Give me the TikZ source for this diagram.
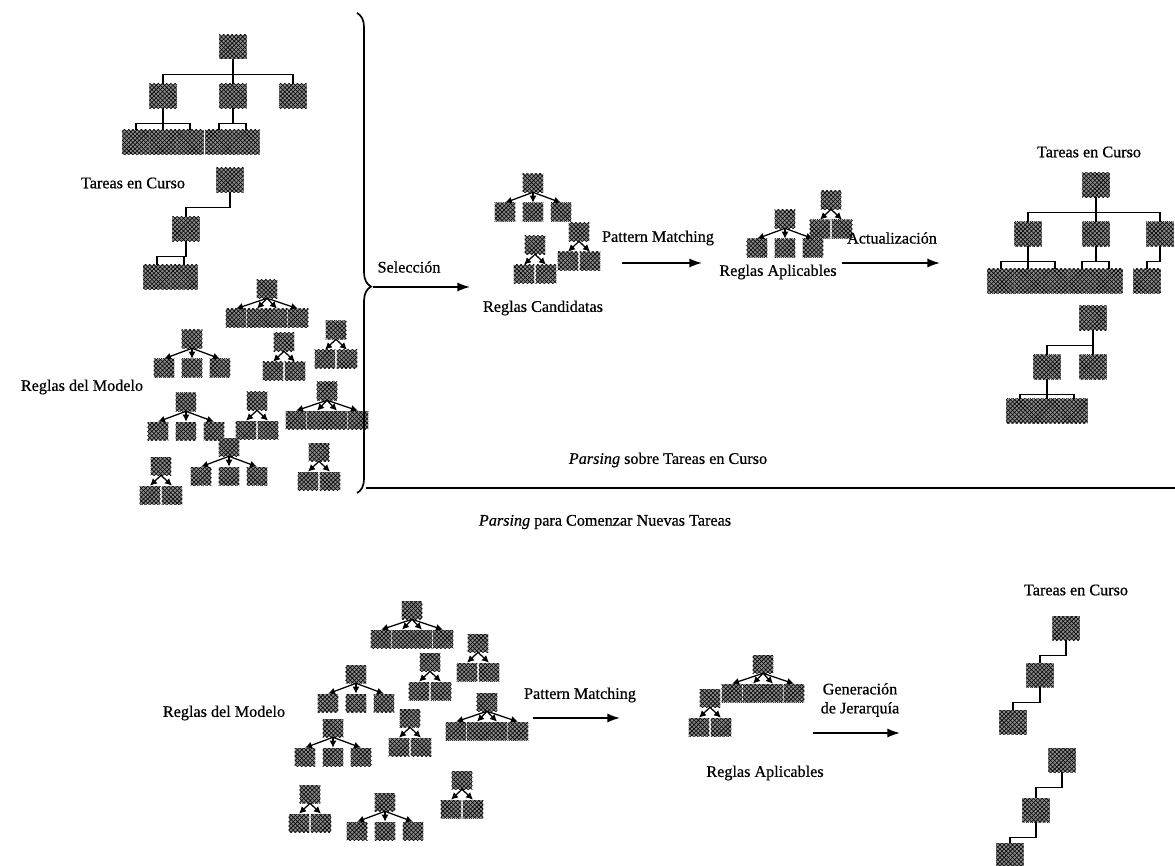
\documentclass[tikz,border=0pt]{standalone}
\usepackage{fontspec}
\setmainfont[FakeBold=0.6]{Liberation Serif}
\usetikzlibrary{arrows.meta, patterns, decorations.pathreplacing}

\tikzset{
  rule/.pic={
    \node[rulenode] (-p) at (0,0) {};
    \foreach \cx [count=\i] in {#1}{
      \node[rulenode] (-\i) at (\cx,29) {};
      \draw[rarr] (-p.south) -- (-\i.north);
    }
  }
}

\begin{document}
\begin{tikzpicture}[
    x=0.025cm, y=-0.025cm,
    task/.style={rectangle, inner sep=0pt, minimum width=0.68cm, minimum height=0.6cm,
      preaction={fill=black!45}, pattern=crosshatch, pattern color=black},
    rulenode/.style={task, minimum width=0.52cm, minimum height=0.45cm},
    tedge/.style={line width=1.1pt,
      to path={(\tikztostart.south) -- ++(0,15) -| (\tikztotarget.north)}},
    rarr/.style={-{Latex[length=5pt,width=5pt]}, line width=0.9pt},
    arr/.style={-{Latex[length=9pt,width=6.5pt]}, line width=1.2pt},
    lbl/.style={font=\fontsize{11.5}{13.5}\selectfont, inner sep=1pt, align=center},
  ]
  \useasboundingbox (0,0) rectangle (1175,866);
  % ── Tareas en Curso (top left) ───────────────────────────────────────────────
  \node[task] (tl0) at (233,47)  {};
  \node[task] (tl1) at (163,96)  {};
  \node[task] (tl2) at (233,96)  {};
  \node[task] (tl3) at (293,96)  {};
  \node[task] (tl4) at (136,142) {};
  \node[task] (tl5) at (163,142) {};
  \node[task] (tl6) at (190,142) {};
  \node[task] (tl7) at (219,142) {};
  \node[task] (tl8) at (246,142) {};
  \node[task] (ts0) at (230,180) {};
  \node[task] (ts1) at (186,229) {};
  \node[task] (ts2) at (157,277) {};
  \node[task] (ts3) at (184,277) {};
  \foreach \x/\y in {tl0/tl1, tl0/tl2, tl0/tl3, tl1/tl4, tl1/tl5, tl1/tl6,
      tl2/tl7, tl2/tl8, ts0/ts1, ts1/ts2, ts1/ts3}
    \draw[tedge] (\x) to (\y);
  \node[lbl] (tcur1) at (133,183) {Tareas en Curso};
  % ── Reglas del Modelo (top left) ─────────────────────────────────────────────
  \foreach \nm/\x/\y in {m3/284/342, m4/336/330, m6/257/401, m9/161/466, m10/319/452}
    \pic (\nm) at (\x,\y) {rule={-11,11}};
  \foreach \nm/\x/\y in {m2/192/339, m5/186/402, m8/229/447}
    \pic (\nm) at (\x,\y) {rule={-28,0,28}};
  \foreach \nm/\x/\y in {m1/267/289, m7/327/391}
    \pic (\nm) at (\x,\y) {rule={-31,-10,10,31}};
  \node[lbl] (rmod1) at (82,387) {Reglas del Modelo};
  % ── Brace and Selección ──────────────────────────────────────────────────────
  \coordinate (brtop) at (357,13);
  \coordinate (brbot) at (357,493);
  \coordinate (brtip) at (373,287);
  \coordinate (selend) at (470,287);
  \draw[line width=1.2pt, decorate, decoration={brace, amplitude=10pt, aspect=0.57}]
    (brtop) -- (brbot);
  \draw[arr] (brtip) -- (selend);
  \node[lbl] (sel) at (409,267) {Selección};
  % ── Reglas Candidatas ────────────────────────────────────────────────────────
  \pic (c1) at (533,183) {rule={-28,0,28}};
  \pic (c2) at (535,245) {rule={-11,11}};
  \pic (c3) at (579,232) {rule={-11,11}};
  \node[lbl] (rcand) at (543,308) {Reglas Candidatas};
  \coordinate (pm1s) at (622,263);
  \coordinate (pm1e) at (702,263);
  \draw[arr] (pm1s) -- (pm1e);
  \node[lbl] (pm1) at (658,238) {Pattern Matching};
  % ── Reglas Aplicables (top) ──────────────────────────────────────────────────
  \pic (a1) at (785,219) {rule={-28,0,28}};
  \pic (a2) at (831,200) {rule={-11,11}};
  \node[lbl] (rapl1) at (778,272) {Reglas Aplicables};
  \coordinate (acts) at (842,263);
  \coordinate (acte) at (940,263);
  \draw[arr] (acts) -- (acte);
  \node[lbl] (act) at (892,238) {Actualización};
  % ── Tareas en Curso (top right) ──────────────────────────────────────────────
  \node[lbl] (tcur2) at (1089,152) {Tareas en Curso};
  \node[task] (tr0) at (1096,185) {};
  \node[task] (tr1) at (1028,234) {};
  \node[task] (tr2) at (1096,234) {};
  \node[task] (tr3) at (1160,234) {};
  \node[task] (tr4) at (1001,281) {};
  \node[task] (tr5) at (1028,281) {};
  \node[task] (tr6) at (1055,281) {};
  \node[task] (tr7) at (1082,281) {};
  \node[task] (tr8) at (1109,281) {};
  \node[task] (tr9) at (1147,281) {};
  \node[task] (tq0) at (1093,318) {};
  \node[task] (tq1) at (1047,367) {};
  \node[task] (tq2) at (1093,367) {};
  \node[task] (tq3) at (1020,411) {};
  \node[task] (tq4) at (1047,411) {};
  \node[task] (tq5) at (1074,411) {};
  \foreach \x/\y in {tr0/tr1, tr0/tr2, tr0/tr3, tr1/tr4, tr1/tr5, tr1/tr6,
      tr2/tr7, tr2/tr8, tr3/tr9, tq0/tq1, tq0/tq2, tq1/tq3, tq1/tq4, tq1/tq5}
    \draw[tedge] (\x) to (\y);
  % ── Separator ────────────────────────────────────────────────────────────────
  \node[lbl] (pars1) at (668,460) {\textit{Parsing} sobre Tareas en Curso};
  \coordinate (sepl) at (366,488);
  \coordinate (sepr) at (1175,488);
  \draw[line width=1.2pt] (sepl) -- (sepr);
  \node[lbl] (pars2) at (605,522) {\textit{Parsing} para Comenzar Nuevas Tareas};
  % ── Reglas del Modelo (bottom) ───────────────────────────────────────────────
  \node[lbl] (rmod2) at (224,713) {Reglas del Modelo};
  \foreach \nm/\x/\y in {n3/310/794, n6/430/662, n7/478/643, n9/410/718, n10/462/780}
    \pic (\nm) at (\x,\y) {rule={-11,11}};
  \foreach \nm/\x/\y in {n1/356/674, n2/333/728, n4/385/802}
    \pic (\nm) at (\x,\y) {rule={-28,0,28}};
  \foreach \nm/\x/\y in {n5/412/610, n8/487/702}
    \pic (\nm) at (\x,\y) {rule={-31,-10,10,31}};
  \coordinate (pm2s) at (533,718);
  \coordinate (pm2e) at (620,718);
  \draw[arr] (pm2s) -- (pm2e);
  \node[lbl] (pm2) at (580,695) {Pattern Matching};
  % ── Reglas Aplicables (bottom) ───────────────────────────────────────────────
  \pic (b1) at (710,698) {rule={-11,11}};
  \pic (b2) at (763,664) {rule={-31,-10,10,31}};
  \node[lbl] (rapl2) at (765,773) {Reglas Aplicables};
  \coordinate (gens) at (813,733);
  \coordinate (gene) at (900,733);
  \draw[arr] (gens) -- (gene);
  \node[lbl] (gen) at (860,700) {Generación\\de Jerarquía};
  % ── Tareas en Curso (bottom right) ───────────────────────────────────────────
  \node[lbl] (tcur3) at (1076,590) {Tareas en Curso};
  \node[task] (tb0) at (1066,628) {};
  \node[task] (tb1) at (1040,675) {};
  \node[task] (tb2) at (1013,722) {};
  \node[task] (tc0) at (1062,760) {};
  \node[task] (tc1) at (1036,810) {};
  \node[task] (tc2) at (1010,855) {};
  \foreach \x/\y in {tb0/tb1, tb1/tb2, tc0/tc1, tc1/tc2}
    \draw[tedge] (\x) to (\y);
\end{tikzpicture}
\end{document}
